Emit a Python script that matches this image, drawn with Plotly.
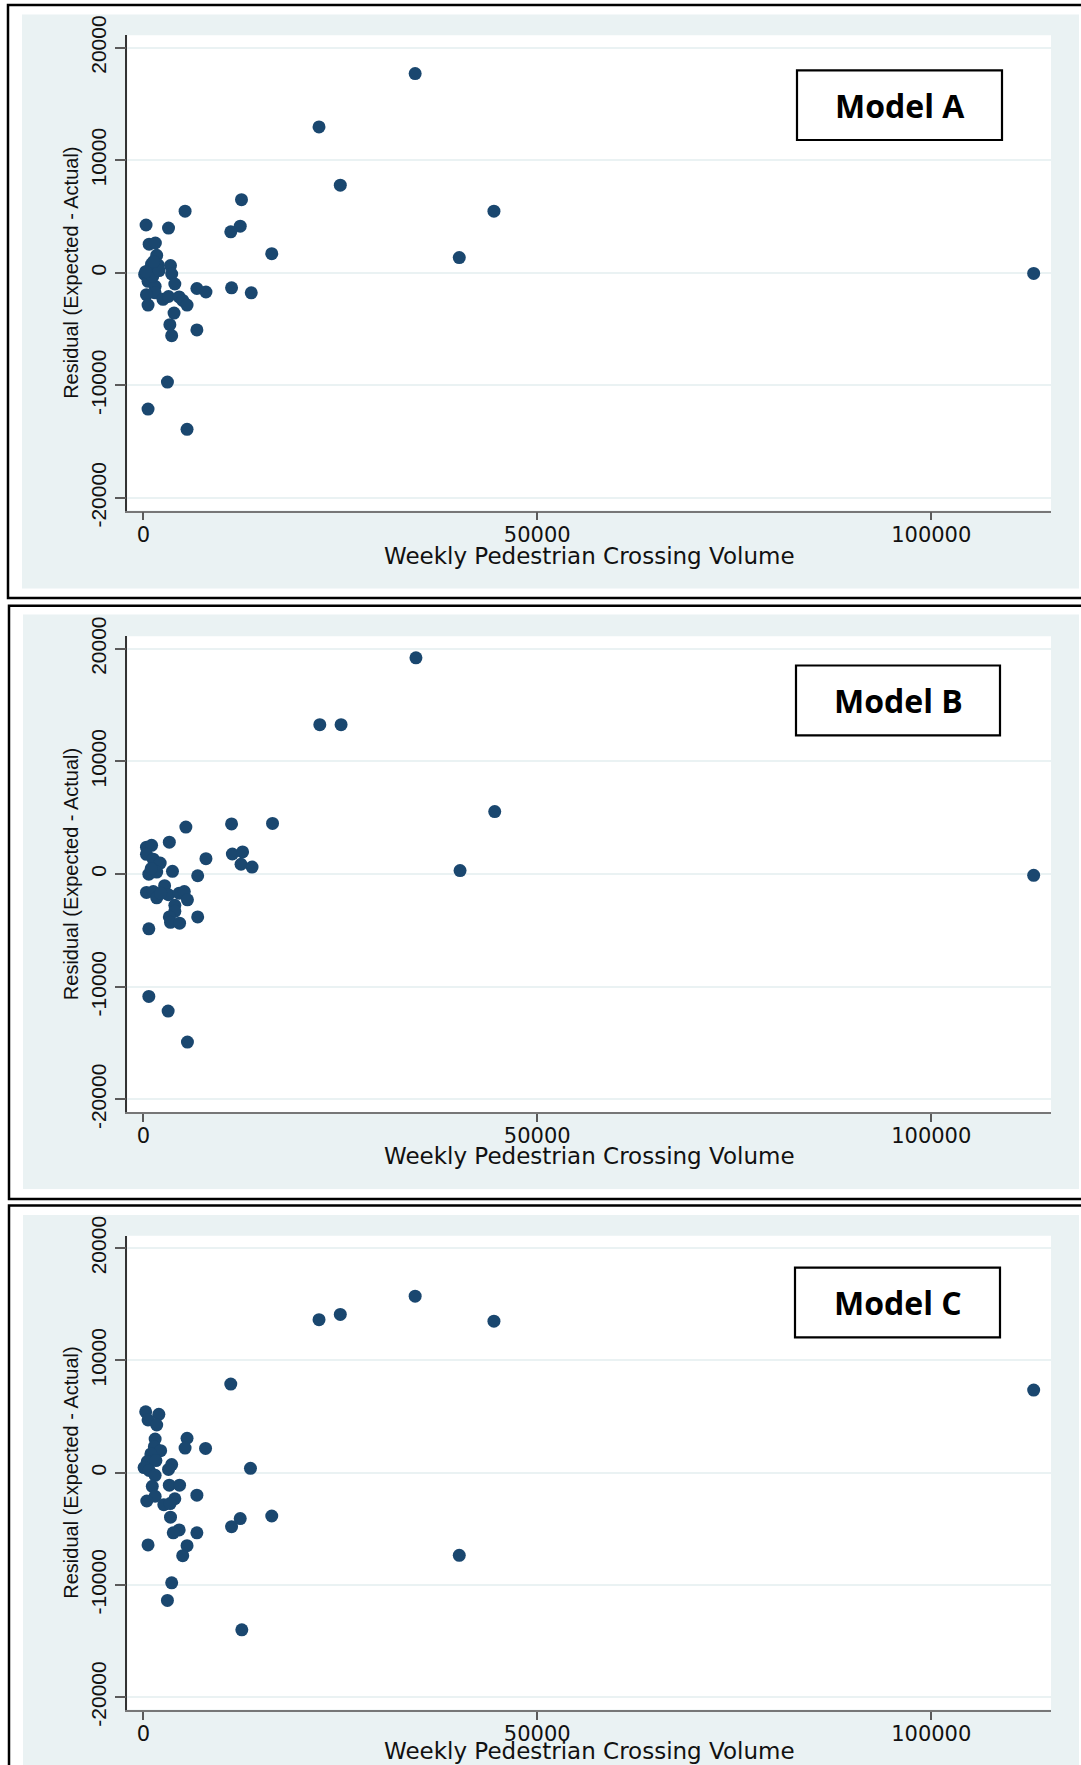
import plotly.graph_objects as go

# ---------------- data ----------------
modelA_x = [34500, 22300, 25000, 44500, 40100, 113000, 12460, 5300, 12300, 11100,
            16300, 350, 3200, 740, 1530, 1700, 1050, 1900, 3450, 170,
            830, 1500, 3600, 600, 1500, 4000, 1500, 400, 600, 2500,
            3200, 4550, 5000, 5550, 6800, 7950, 11200, 13700, 3900, 3370,
            3600, 6800, 3060, 600, 5550, 900, 1200, 300, 2000, 1300]
modelA_y = [17700, 12960, 7790, 5480, 1360, -50, 6500, 5480, 4150, 3640,
            1700, 4250, 3980, 2550, 2650, 1560, 780, 680, 650, -140,
            30, 270, -100, -750, -1190, -990, -1770, -1940, -2860, -2350,
            -2100, -2140, -2450, -2860, -1390, -1700, -1330, -1770, -3570, -4600,
            -5580, -5070, -9700, -12100, -13900, 400, -300, 100, 200, 1000]

modelB_x = [34600, 22400, 25100, 44600, 40200, 113000, 5400, 11200, 16400, 3300,
            400, 1050, 400, 1270, 2140, 7950, 11300, 12600, 12400, 13800,
            700, 1700, 3700, 6900, 2700, 400, 1270, 1700, 3200, 4550,
            5200, 5600, 4000, 4000, 3300, 3450, 4600, 6900, 700, 700,
            3150, 5600, 1000, 2200]
modelB_y = [19200, 13270, 13270, 5550, 320, -100, 4180, 4460, 4500, 2840,
            2390, 2560, 1760, 1330, 980, 1370, 1790, 1970, 880, 630,
            0, 180, 250, -140, -1020, -1620, -1550, -2100, -1830, -1690,
            -1550, -2280, -2770, -3300, -3800, -4280, -4350, -3800, -4850, -10850,
            -12150, -14900, 500, -1700]

modelC_x = [34500, 22300, 25000, 44500, 40100, 113000, 11100, 300, 1970, 600,
            1700, 1500, 5550, 5300, 7900, 1400, 2200, 960, 500, 1600,
            100, 740, 3600, 3200, 13600, 1500, 1140, 3300, 4600, 1500,
            440, 4000, 6800, 2600, 3400, 3450, 16300, 12300, 11200, 4550,
            3800, 6800, 600, 5550, 5000, 3600, 3060, 12500]
modelC_y = [15730, 13640, 14100, 13500, -7360, 7360, 7900, 5430, 5200, 4700,
            4250, 3000, 3070, 2190, 2160, 2320, 1960, 1670, 1000, 1080,
            460, 200, 720, 290, 390, -230, -1210, -1110, -1110, -2100,
            -2520, -2320, -2000, -2850, -2750, -3960, -3860, -4090, -4810, -5100,
            -5360, -5360, -6440, -6500, -7390, -9810, -11380, -14000]

x_tick_vals = [0, 50000, 100000]
x_tick_text = ["0", "50000", "100000"]
y_tick_vals = [-20000, -10000, 0, 10000, 20000]
y_tick_text = ["-20000", "-10000", "0", "10000", "20000"]
panel_labels = ["Model A", "Model B", "Model C"]
x_title = "Weekly Pedestrian Crossing Volume"
y_title = "Residual (Expected - Actual)"

series = [(modelA_x, modelA_y), (modelB_x, modelB_y), (modelC_x, modelC_y)]

# ---------------- layout geometry (pixels) ----------------
W, H = 1081, 1765
BG = "#EAF2F3"
NAVY = "#1A476F"
AXC = "#5A5A5A"

panels = [
    dict(frame=(8, 5, 1100, 598), bg=(22, 14.5, 1079, 588.5),
         plot=(127.4, 35.2, 1051, 510.5), box=(797, 70.4, 1002, 140), title_y=556),
    dict(frame=(9, 605.8, 1100, 1199), bg=(23, 614.5, 1079, 1189),
         plot=(127.4, 636.3, 1051, 1112), box=(796, 665.5, 1000, 735.3), title_y=1156),
    dict(frame=(9, 1205.4, 1100, 1790), bg=(23, 1215, 1079, 1790),
         plot=(127.4, 1235.8, 1051, 1709.6), box=(795, 1267.7, 1000, 1337.4), title_y=1751),
]


def px(x):
    return x / W


def py(y):
    return 1 - y / H


fig = go.Figure()
shapes = []
annotations = []

for i, (p, (xs, ys), lab) in enumerate(zip(panels, series, panel_labels)):
    n = "" if i == 0 else str(i + 1)
    fig.add_trace(go.Scatter(
        x=xs, y=ys, mode="markers", xaxis="x" + n, yaxis="y" + n,
        marker=dict(size=13, color=NAVY, line=dict(width=0)),
        showlegend=False, cliponaxis=False, hoverinfo="x+y"))

    x0, y0, x1, y1 = p["plot"]
    fig.layout["xaxis" + n] = dict(
        domain=[px(x0), px(x1)], anchor="y" + n, range=[-2020, 115200],
        tickvals=x_tick_vals, ticktext=x_tick_text, ticks="outside", ticklen=8,
        tickwidth=1.5, tickcolor=AXC, showline=True, linecolor="#777777", linewidth=1.8,
        showgrid=False, zeroline=False, ticklabelstandoff=-4, automargin=False,
        tickfont=dict(family="DejaVu Sans", size=21, color="#111111"))
    fig.layout["yaxis" + n] = dict(
        domain=[py(y1), py(y0)], anchor="x" + n, range=[-21110, 21110],
        tickvals=y_tick_vals, ticktext=y_tick_text, ticks="outside", ticklen=11,
        tickwidth=1.5, tickcolor=AXC, showline=True, linecolor="#333333", linewidth=1.8,
        showgrid=True, gridcolor=BG, gridwidth=2, zeroline=False, tickangle=-90,
        ticklabelstandoff=0, automargin=False,
        tickfont=dict(family="Liberation Sans, Arial", size=21, color="#111111"))

    # light background, white plot region and black frame
    bx0, by0, bx1, by1 = p["bg"]
    shapes.append(dict(type="rect", xref="paper", yref="paper", layer="below",
                       x0=px(bx0), x1=px(bx1), y0=py(by1), y1=py(by0),
                       fillcolor=BG, line=dict(width=0)))
    shapes.append(dict(type="rect", xref="paper", yref="paper", layer="below",
                       x0=px(x0), x1=px(x1), y0=py(y1), y1=py(y0),
                       fillcolor="white", line=dict(width=0)))
    fx0, fy0, fx1, fy1 = p["frame"]
    shapes.append(dict(type="rect", xref="paper", yref="paper", layer="above",
                       x0=px(fx0), x1=px(fx1), y0=py(fy1), y1=py(fy0),
                       fillcolor="rgba(0,0,0,0)", line=dict(color="black", width=2.5)))
    # model label box
    kx0, ky0, kx1, ky1 = p["box"]
    shapes.append(dict(type="rect", xref="paper", yref="paper", layer="above",
                       x0=px(kx0), x1=px(kx1), y0=py(ky1), y1=py(ky0),
                       fillcolor="white", line=dict(color="black", width=2.2)))
    annotations.append(dict(xref="paper", yref="paper", x=px((kx0 + kx1) / 2),
                            y=py((ky0 + ky1) / 2), text="<b>%s</b>" % lab, showarrow=False,
                            xanchor="center", yanchor="middle",
                            font=dict(family="Open Sans", size=32, color="black")))
    # axis titles
    annotations.append(dict(xref="paper", yref="paper", x=px((x0 + x1) / 2),
                            y=py(p["title_y"]), text=x_title, showarrow=False,
                            xanchor="center", yanchor="middle",
                            font=dict(family="DejaVu Sans", size=23, color="#111111")))
    annotations.append(dict(xref="paper", yref="paper", x=px(71),
                            y=py((y0 + y1) / 2), text=y_title, showarrow=False,
                            textangle=-90, xanchor="center", yanchor="middle",
                            font=dict(family="Liberation Sans, Arial", size=20, color="#111111")))

fig.update_layout(
    template="none",
    width=W, height=H, margin=dict(l=0, r=0, t=0, b=0, pad=0, autoexpand=False),
    paper_bgcolor="white", plot_bgcolor="white",
    shapes=shapes, annotations=annotations, showlegend=False)

fig.write_html(
    "out.html",
    config={"displayModeBar": False},
    post_script="document.body.style.margin='0px';document.body.style.padding='0px';"
                "document.documentElement.style.overflow='hidden';",
)
